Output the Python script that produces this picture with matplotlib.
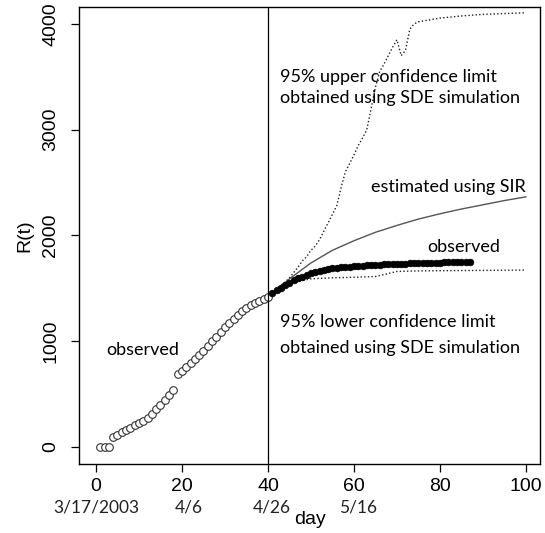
import matplotlib
matplotlib.use('Agg')
import matplotlib.pyplot as plt
import numpy as np

# observed R(t) before day 40 (open circles)
obs_days = np.arange(1, 41)
obs_vals = [0, 0, 0, 95, 118, 140, 160, 182, 205, 228, 250, 275, 310, 355, 400, 445, 490, 535,
            690, 720, 755, 790, 830, 870, 910, 955, 1000, 1045, 1090, 1135, 1175, 1215,
            1250, 1285, 1315, 1340, 1360, 1380, 1395, 1415]

# observed R(t) after day 40 (filled circles)
obs2_days = np.arange(41, 88)
obs2_vals = [1455, 1480, 1505, 1530, 1555, 1575, 1595, 1612, 1628, 1642, 1655, 1665, 1674,
             1682, 1688, 1693, 1698, 1702, 1705, 1708, 1711, 1714, 1717, 1720, 1722, 1724,
             1726, 1728, 1730, 1732, 1733, 1735, 1736, 1738, 1739, 1740, 1741, 1742, 1743,
             1744, 1745, 1746, 1747, 1748, 1749, 1750, 1751]

# SIR estimate
sir_days = [40, 45, 50, 55, 60, 65, 70, 75, 80, 85, 90, 95, 100]
sir_vals = [1415, 1590, 1740, 1860, 1950, 2030, 2095, 2155, 2205, 2250, 2290, 2330, 2365]

# 95% upper limit (SDE simulation)
up_days = [40, 41, 42, 43, 44, 45, 46, 47, 48, 49, 50, 51, 52, 53, 54, 55, 56, 57, 58, 59,
           60, 61, 62, 63, 64, 65, 66, 67, 68, 69, 70, 71, 72, 73, 74, 75, 80, 85, 90, 95, 100]
up_vals = [1415, 1450, 1500, 1530, 1560, 1600, 1650, 1700, 1760, 1800, 1860, 1900, 1960,
           2040, 2120, 2200, 2280, 2450, 2600, 2680, 2760, 2850, 2920, 3000, 3200, 3400,
           3550, 3620, 3700, 3780, 3850, 3700, 3750, 3950, 4000, 4020, 4055, 4075, 4090,
           4098, 4105]

# 95% lower limit (SDE simulation)
lo_days = [40, 42, 44, 46, 48, 50, 55, 60, 65, 68, 70, 75, 80, 90, 100]
lo_vals = [1405, 1460, 1510, 1550, 1575, 1590, 1600, 1605, 1612, 1640, 1660, 1665, 1667,
           1670, 1673]

xticks = [0, 20, 40, 60, 80, 100]
yticks = [0, 1000, 2000, 3000, 4000]
date_pos = [0, 21.5, 41, 61]
date_labels = ['3/17/2003', '4/6', '4/26', '5/16']

plt.rcParams['font.family'] = ['Liberation Sans', 'DejaVu Sans']
note_font = 'Lato'

fig = plt.figure(figsize=(5.45, 5.33), dpi=100)
ax = fig.add_axes([0.1442, 0.1295, 0.8475, 0.8574])

dots = (0, (1, 1.6))
ax.plot(up_days, up_vals, color='#222222', lw=1.0, linestyle=dots)
ax.plot(lo_days, lo_vals, color='#222222', lw=1.0, linestyle=dots)
ax.plot(sir_days, sir_vals, color='#555555', lw=1.0)
ax.plot(obs_days, obs_vals, 'o', mfc='white', mec='#333333', ms=5.5, mew=0.8)
ax.plot(obs2_days, obs2_vals, 'o', mfc='black', mec='black', ms=4.8, mew=0.5)
ax.axvline(40, color='black', lw=0.9)

ax.set_xlim(-4.05, 103.4)
ax.set_ylim(-160, 4160)
ax.set_xticks(xticks)
ax.set_yticks(yticks)
ax.tick_params(axis='both', labelsize=14, length=6, width=0.9)
ax.tick_params(axis='x', pad=4)
ax.tick_params(axis='y', pad=8)
for lab in ax.get_yticklabels():
    lab.set_rotation(90)
    lab.set_va('center')
for sp in ax.spines.values():
    sp.set_linewidth(1.0)

ax.set_ylabel('R(t)', fontsize=14, labelpad=6)
# x label sits between the date labels, just below them
ax.text(0.5, -0.121, 'day', transform=ax.transAxes, ha='center', va='center', fontsize=14)

# date labels under the tick numbers
for p, d in zip(date_pos, date_labels):
    ax.text(p, -0.095, d, transform=ax.get_xaxis_transform(), ha='center', va='center',
            fontsize=12.5, family=note_font, color='#222222')

ax.text(10.9, 917, 'observed', fontsize=13, family=note_font, ha='center', va='center')
ax.text(42.8, 3497, '95% upper confidence limit', fontsize=13, family=note_font, va='center')
ax.text(42.8, 3299, 'obtained using SDE simulation', fontsize=13, family=note_font, va='center')
ax.text(100, 2457, 'estimated using SIR', fontsize=13, family=note_font, ha='right', va='center')
ax.text(77, 1890, 'observed', fontsize=13, family=note_font, va='center')
ax.text(42.8, 1180, '95% lower confidence limit', fontsize=13, family=note_font, va='center')
ax.text(42.8, 936, 'obtained using SDE simulation', fontsize=13, family=note_font, va='center')

fig.savefig('out.png', dpi=100)
